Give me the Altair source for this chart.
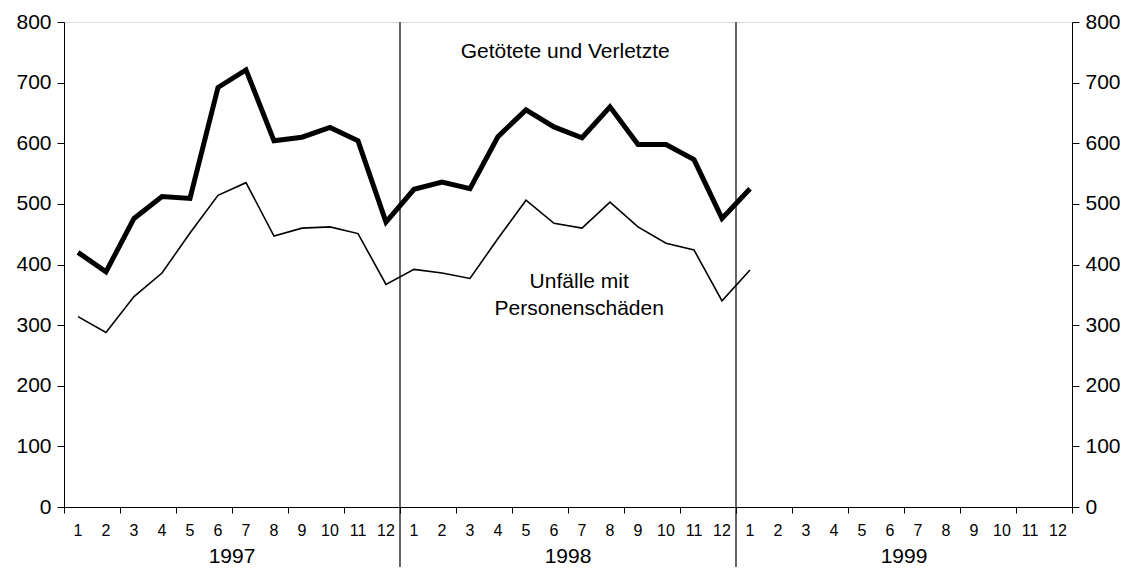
import altair as alt
import pandas as pd

years = ["1997", "1998", "1999"]
month_labels = [str(m) for m in range(1, 13)]

# Getötete und Verletzte (thick line), Jan 1997 .. Jan 1999
getoetete = [420, 388, 476, 512, 509, 692, 721, 604, 610, 626, 604, 470,
             524, 536, 525, 611, 655, 627, 609, 660, 598, 598, 573, 476,
             525]
# Unfälle mit Personenschäden (thin line)
unfaelle = [314, 288, 347, 386, 452, 514, 535, 447, 460, 462, 451, 367,
            392, 386, 377, 443, 506, 468, 460, 503, 462, 435, 424, 340,
            391]

y_ticks = list(range(0, 801, 100))
FONT = "Liberation Sans"

series_df = pd.DataFrame({
    "pos": [i + 0.5 for i in range(len(getoetete))],
    "getoetete": getoetete,
    "unfaelle": unfaelle,
})

month_df = pd.DataFrame([
    {"pos": yi * 12 + mi + 0.5, "label": m}
    for yi in range(len(years)) for mi, m in enumerate(month_labels)
])
year_df = pd.DataFrame({"pos": [yi * 12 + 6 for yi in range(len(years))],
                        "label": years})
bound_df = pd.DataFrame({"pos": [12, 24]})
annot_df = pd.DataFrame({
    "pos": [17.9, 18.4, 18.4],
    "val": [750, 371, 326],
    "label": ["Getötete und Verletzte", "Unfälle mit", "Personenschäden"],
})

xs = alt.Scale(domain=[0, 36], nice=False, zero=False)
ys = alt.Scale(domain=[0, 800], nice=False)

x_axis = alt.Axis(values=list(range(37)), labels=False, ticks=True, tickSize=6,
                  grid=False, title=None, domainColor="black", tickColor="black")

def y_axis(orient):
    return alt.Axis(orient=orient, values=y_ticks, grid=False, title=None,
                    tickSize=7, labelPadding=6, labelFontSize=21, labelFont=FONT,
                    labelColor="black", domainColor="black", tickColor="black")

thick = alt.Chart(series_df).mark_line(color="black", strokeWidth=5).encode(
    x=alt.X("pos:Q", scale=xs, axis=x_axis),
    y=alt.Y("getoetete:Q", scale=ys, axis=y_axis("left")),
)
thin = alt.Chart(series_df).mark_line(color="black", strokeWidth=1.6).encode(
    x=alt.X("pos:Q", scale=xs),
    y=alt.Y("unfaelle:Q", scale=ys, axis=y_axis("right")),
)
bounds = alt.Chart(bound_df).mark_rule(color="black", strokeWidth=1.2).encode(
    x=alt.X("pos:Q", scale=xs),
    y=alt.value(0),
    y2=alt.value(560),
)
months = alt.Chart(month_df).mark_text(font=FONT, fontSize=16, color="black",
                                       baseline="middle", align="center").encode(
    x=alt.X("pos:Q", scale=xs),
    y=alt.value(509),
    text="label:N",
)
yrs = alt.Chart(year_df).mark_text(font=FONT, fontSize=21, color="black",
                                   baseline="middle", align="center").encode(
    x=alt.X("pos:Q", scale=xs),
    y=alt.value(535),
    text="label:N",
)
annots = alt.Chart(annot_df).mark_text(font=FONT, fontSize=21, color="black",
                                       baseline="middle", align="center").encode(
    x=alt.X("pos:Q", scale=xs),
    y=alt.Y("val:Q", scale=ys, axis=None),
    text="label:N",
)

chart = alt.layer(bounds, thin, thick, months, yrs, annots).resolve_scale(
    y="independent"
).properties(
    width=1008, height=485,
    autosize=alt.AutoSizeParams(type="none"),
    padding={"left": 56, "top": 14, "right": 54, "bottom": 60},
).configure_view(stroke="black", strokeWidth=1).configure(background="white")

chart.save("out.html", embed_options={"renderer": "svg", "actions": False})
